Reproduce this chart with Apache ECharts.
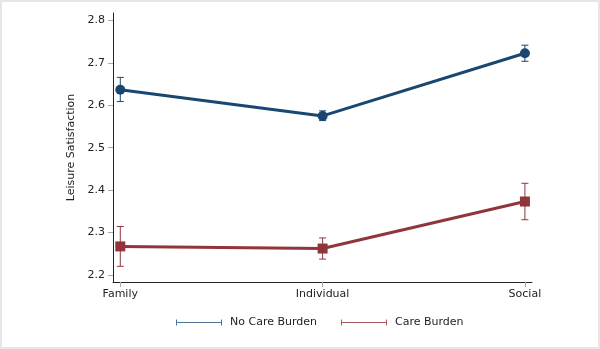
<!DOCTYPE html>
<html>
<head>
<meta charset="utf-8">
<script src="https://cdn.jsdelivr.net/npm/echarts@6/dist/echarts.min.js"></script>
<style>
  html, body { margin: 0; padding: 0; background: #fff; }
  #chart { width: 600px; height: 349px; }
</style>
</head>
<body>
<div id="chart"></div>
<script>
// Leisure satisfaction by leisure type, with 95% confidence intervals
const categories = ['Family', 'Individual', 'Social'];
const noCareMean = [2.637, 2.575, 2.723];
const noCareLow  = [2.609, 2.564, 2.704];
const noCareHigh = [2.666, 2.587, 2.742];
const careMean   = [2.267, 2.262, 2.373];
const careLow    = [2.220, 2.237, 2.330];
const careHigh   = [2.314, 2.287, 2.416];
const yTicks = [2.2, 2.3, 2.4, 2.5, 2.6, 2.7, 2.8];

const BLUE = '#1a476f';
const RED = '#90353b';
const FONT = 'DejaVu Sans';

function pairs(vals) { return vals.map((v, i) => [i, v]); }
function ciData(lo, hi) { return lo.map((v, i) => [i, v, hi[i]]); }

function errorBars(color) {
  return function (params, api) {
    const top = api.coord([api.value(0), api.value(2)]);
    const bot = api.coord([api.value(0), api.value(1)]);
    const x = top[0], h = 3.5;
    const style = { stroke: color, lineWidth: 1 };
    return {
      type: 'group',
      children: [
        { type: 'line', shape: { x1: x, y1: top[1], x2: x, y2: bot[1] }, style },
        { type: 'line', shape: { x1: x - h, y1: top[1], x2: x + h, y2: top[1] }, style },
        { type: 'line', shape: { x1: x - h, y1: bot[1], x2: x + h, y2: bot[1] }, style }
      ]
    };
  };
}

const capIcon = 'path://M0,0h1v6h-1z M0,2.5h46v1h-46z M45,0h1v6h-1z';

const chart = echarts.init(document.getElementById('chart'), null, { renderer: 'canvas' });
chart.setOption({
  animation: false,
  textStyle: { fontFamily: FONT },
  graphic: [{
    type: 'rect', silent: true, z: -10,
    shape: { x: 0, y: 0, width: 600, height: 349 },
    style: { fill: 'none', stroke: '#e6e6e6', lineWidth: 4 }
  }],
  grid: { left: 113, right: 68, top: 13, bottom: 67 },
  legend: {
    left: 171, top: 312,
    itemWidth: 46, itemHeight: 6, itemGap: 24,
    textStyle: { fontFamily: FONT, fontSize: 11, color: '#222', padding: [0, 0, 0, 3] },
    selectedMode: false,
    data: [
      { name: 'No Care Burden', icon: capIcon, itemStyle: { color: '#4d7497' } },
      { name: 'Care Burden', icon: capIcon, itemStyle: { color: '#a85a60' } }
    ]
  },
  xAxis: {
    type: 'value', min: -0.036, max: 2.035,
    splitLine: { show: false },
    axisLine: { show: true, onZero: false, lineStyle: { color: '#222', width: 1 } },
    axisTick: { show: true, length: 5, lineStyle: { color: '#aaa' }, customValues: [0, 1, 2] },
    axisLabel: {
      customValues: [0, 1, 2], margin: 7,
      fontFamily: FONT, fontSize: 11, color: '#222',
      formatter: v => categories[Math.round(v)] || ''
    }
  },
  yAxis: {
    type: 'value', min: 2.183, max: 2.818,
    name: 'Leisure Satisfaction', nameLocation: 'middle', nameGap: 27,
    nameTextStyle: { fontFamily: FONT, fontSize: 11, color: '#222' },
    splitLine: { show: false },
    axisLine: { show: true, onZero: false, lineStyle: { color: '#222', width: 1 } },
    axisTick: { show: true, length: 5, lineStyle: { color: '#aaa' }, customValues: yTicks },
    axisLabel: {
      customValues: yTicks, margin: 8,
      fontFamily: FONT, fontSize: 11, color: '#222',
      formatter: v => v.toFixed(1)
    }
  },
  series: [
    {
      name: 'No Care Burden', type: 'line', data: pairs(noCareMean),
      symbol: 'circle', symbolSize: 10,
      lineStyle: { color: BLUE, width: 3 }, itemStyle: { color: BLUE }, z: 3
    },
    {
      name: 'Care Burden', type: 'line', data: pairs(careMean),
      symbol: 'rect', symbolSize: 10,
      lineStyle: { color: RED, width: 3 }, itemStyle: { color: RED }, z: 3
    },
    {
      name: 'No Care Burden CI', type: 'custom', data: ciData(noCareLow, noCareHigh),
      renderItem: errorBars(BLUE), encode: { x: 0, y: [1, 2] }, z: 4
    },
    {
      name: 'Care Burden CI', type: 'custom', data: ciData(careLow, careHigh),
      renderItem: errorBars(RED), encode: { x: 0, y: [1, 2] }, z: 4
    }
  ]
});
</script>
</body>
</html>
